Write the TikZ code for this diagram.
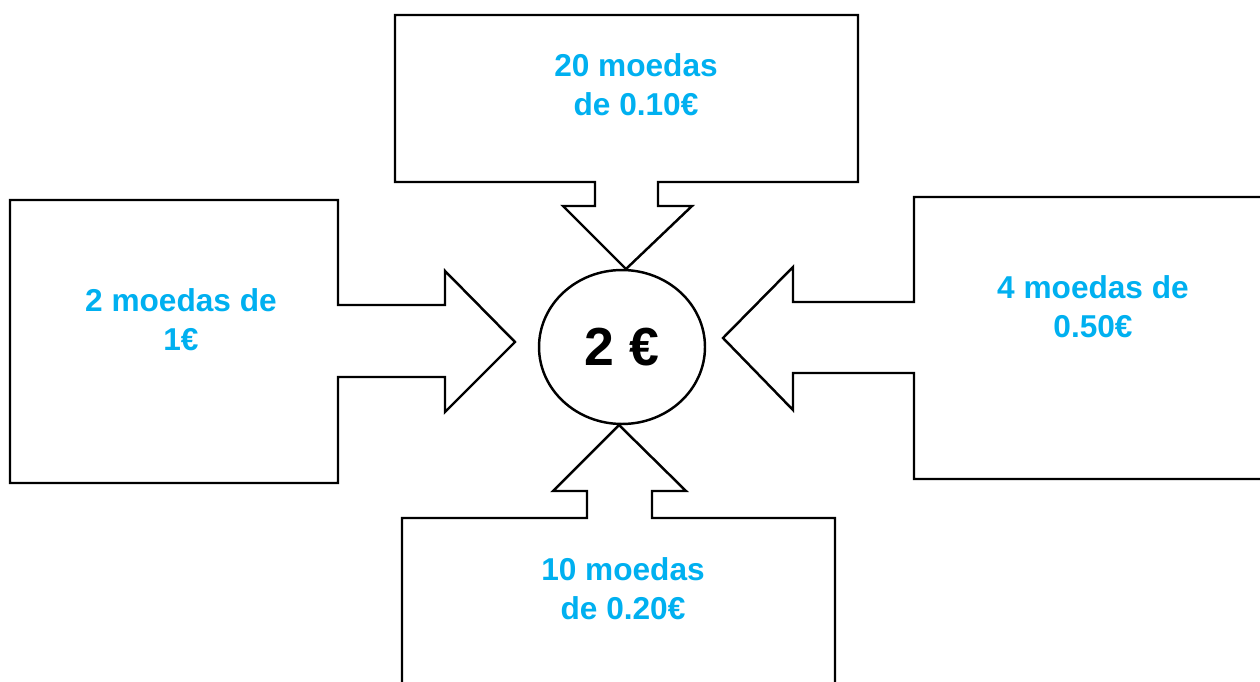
\documentclass[tikz,border=0pt]{standalone}
\usepackage{fontspec}
\setmainfont{Liberation Sans}
\usetikzlibrary{shapes.geometric}
\definecolor{moedablue}{RGB}{0,176,240}
\tikzset{
  callout/.style={draw=black, line width=1.4pt, line join=miter, fill=white},
  moedatext/.style={align=center, text=moedablue, font=\fontsize{18}{22}\selectfont\bfseries},
}
\begin{document}
\begin{tikzpicture}[
      x = 0.02cm,
      y = -0.02cm,
  ]

  \clip (0,0) rectangle (1260,682);
  \fill[white] (0,0) rectangle (1260,682);

  % top
  \draw [callout] (395,15) -- (858,15) -- (858,182) -- (658,182) -- (658,206)
    -- (692,206) -- (626,269) -- (563,206) -- (595,206) -- (595,182) -- (395,182) -- cycle;
  % left
  \draw [callout] (10,200) -- (338,200) -- (338,305) -- (445,305) -- (445,271)
    -- (515,342) -- (445,412) -- (445,377) -- (338,377) -- (338,483) -- (10,483) -- cycle;
  % right
  \draw [callout] (1270,197) -- (914,197) -- (914,302) -- (793,302) -- (793,267)
    -- (723,338) -- (793,410) -- (793,373) -- (914,373) -- (914,479) -- (1270,479);
  % bottom
  \draw [callout] (402,700) -- (402,518) -- (587,518) -- (587,491) -- (553,491)
    -- (619,425) -- (686,491) -- (652,491) -- (652,518) -- (835,518) -- (835,700);

  \node[draw, line width=1.4pt, ellipse, minimum width=3.32cm, minimum height=3.08cm,
    font=\fontsize{30.5}{34}\selectfont\bfseries] (total) at (622,347) {2 €};

  \node[moedatext] (top) at (636,85) {20 moedas\\de 0.10€};
  \node[moedatext] (left) at (181,320) {2 moedas de\\1€};
  \node[moedatext] (right) at (1093,307) {4 moedas de\\0.50€};
  \node[moedatext] (bottom) at (623,589) {10 moedas\\de 0.20€};

  \end{tikzpicture}
\end{document}
